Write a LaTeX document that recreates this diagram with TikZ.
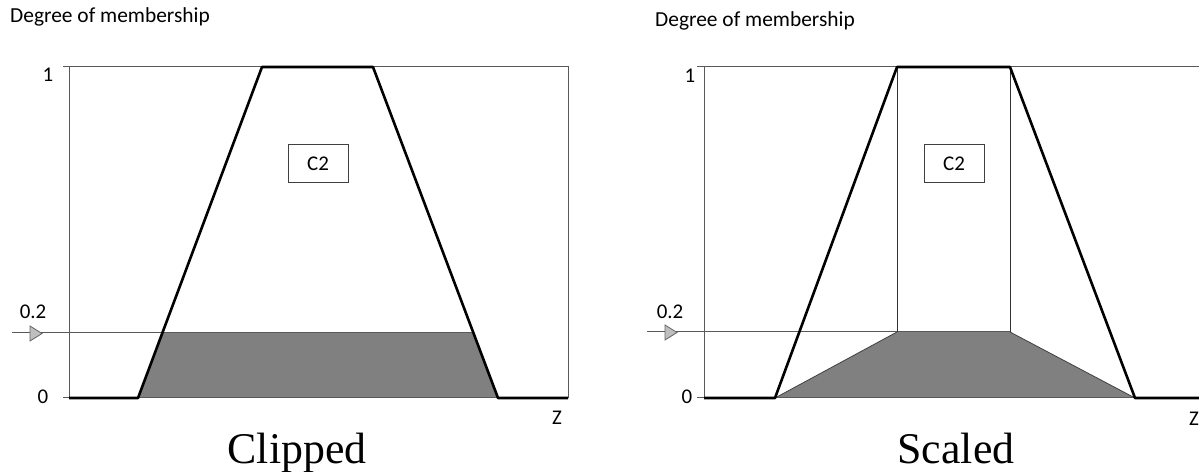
\documentclass[tikz,border=0pt]{standalone}
\usepackage{fontspec}
\setmainfont{Carlito}
\newfontfamily\timesfont{Liberation Serif}
\begin{document}
\begin{tikzpicture}[x=1bp,y=-1bp,
  axisline/.style={draw=black!65,line width=1bp},
  thick curve/.style={draw=black,line width=2.6bp,line join=round},
  lbl/.style={font=\fontsize{21}{24}\selectfont,inner sep=0pt},
  title/.style={font=\fontsize{21.5}{25}\selectfont,inner sep=0pt,anchor=base west},
  big/.style={font=\timesfont\fontsize{44}{50}\selectfont,inner sep=0pt,anchor=base},
  cbox/.style={draw=black!75,line width=1bp,minimum width=60bp,minimum height=38bp,inner sep=0pt,font=\fontsize{21}{24}\selectfont},
  marker/.style={fill=black!25,draw=black!60,line width=0.8bp},
  shade/.style={fill=black!50}]
\useasboundingbox (0,0) rectangle (1199,472);
\fill[white] (0,0) rectangle (1199,472);

% ===== Left chart (Clipped) =====
\coordinate (La0) at (69,398);
\coordinate (La1) at (69,67);
\coordinate (Lr1) at (568,67);
\coordinate (Lr0) at (568,398);
\coordinate (Lb) at (138,398);
\coordinate (Lt) at (262,67);
\coordinate (Ru) at (373,67);
\coordinate (Rb) at (498,398);
\coordinate (Lc) at (162,333);
\coordinate (Rc) at (474,333);
\coordinate (Ls) at (12,333);

\fill[shade] (Lb) -- (Lc) -- (Rc) -- (Rb) -- cycle;
\draw[axisline] (63,67) -- (Lr1) -- (Lr0) -- (La0) -- (La1);
\draw[axisline] (63,398) -- (La0);
\draw[axisline] (Ls) -- (Rc);
\draw[marker] (30,326) -- (42,333.5) -- (30,341) -- cycle;
\draw[thick curve] (La0) -- (Lb) -- (Lt) -- (Ru) -- (Rb) -- (Lr0);

\node[title] (ldeg) at (10,23) {Degree of membership};
\node[lbl] (l1) at (48,75) {1};
\node[lbl] (l02) at (33,312) {0.2};
\node[lbl] (l0) at (43,397) {0};
\node[lbl] (lz) at (557,418) {Z};
\node[cbox] (lc2) at (318,164) {C2};
\node[big] (clip) at (297,464) {Clipped};

% ===== Right chart (Scaled) =====
\coordinate (Ra0) at (704,398);
\coordinate (Ra1) at (704,67);
\coordinate (Rend1) at (1199,67);
\coordinate (Rend0) at (1199,398);
\coordinate (SLb) at (775,398);
\coordinate (SLt) at (897,67);
\coordinate (SRt) at (1010,67);
\coordinate (SRb) at (1135,398);
\coordinate (SLc) at (897,332);
\coordinate (SRc) at (1010,332);
\coordinate (Rs) at (647,332);

\fill[shade] (SLb) -- (SLc) -- (SRc) -- (SRb) -- cycle;
\draw[draw=black!75,line width=0.8bp] (SLb) -- (SLc) (SRc) -- (SRb);
\draw[axisline] (697,67) -- (Rend1);
\draw[axisline] (697,398) -- (Rend0);
\draw[axisline] (Ra0) -- (Ra1);
\draw[axisline] (Rs) -- (SRc);
\draw[draw=black!80,line width=1bp] (SLt) -- (SLc) (SRt) -- (SRc);
\draw[marker] (665,325) -- (677,332.5) -- (665,340) -- cycle;
\draw[thick curve] (Ra0) -- (SLb) -- (SLt) -- (SRt) -- (SRb) -- (Rend0);

\node[title] (rdeg) at (655,27) {Degree of membership};
\node[lbl] (r1) at (690,76) {1};
\node[lbl] (r02) at (670,312) {0.2};
\node[lbl] (r0) at (687,397) {0};
\node[lbl] (rz) at (1194,419) {Z};
\node[cbox] (rc2) at (954,164) {C2};
\node[big] (scal) at (956,464) {Scaled};
\end{tikzpicture}
\end{document}
